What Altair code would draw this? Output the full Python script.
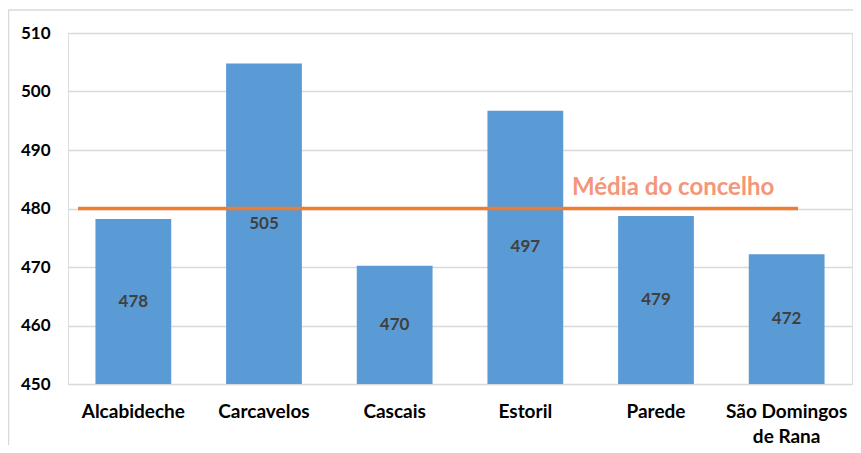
import altair as alt
import pandas as pd

categories = ["Alcabideche", "Carcavelos", "Cascais", "Estoril", "Parede", "São Domingos de Rana"]
values = [478.2, 504.8, 470.2, 496.7, 478.7, 472.2]
labels = [478, 505, 470, 497, 479, 472]
average = 480
average_label = "Média do concelho"
y_ticks = [450, 460, 470, 480, 490, 500, 510]

df = pd.DataFrame({"cat": categories, "value": values, "label": labels})
avg_df = pd.DataFrame({"avg": [average], "text": [average_label]})

W, H = 784, 351
FONT = "Lato"

x_enc = alt.X(
    "cat:N", sort=categories, title=None,
    scale=alt.Scale(paddingInner=0.42, paddingOuter=0.21),
    axis=alt.Axis(
        labelAngle=0, labelFontSize=19, labelFontWeight="bold", labelColor="#000000",
        labelFont=FONT, labelPadding=18, ticks=False, domain=False, grid=False,
        labelLineHeight=25, labelBaseline="top",
        labelExpr="datum.label == 'São Domingos de Rana' ? ['São Domingos', 'de Rana'] : datum.label",
    ),
)
y_scale = alt.Scale(domain=[450, 510], nice=False, zero=False)

bars = alt.Chart(df).mark_bar(color="#5B9BD5", clip=True).encode(
    x=x_enc,
    y=alt.Y("value:Q", scale=y_scale, title=None,
            axis=alt.Axis(values=y_ticks, labelFontSize=17, labelFontWeight="bold",
                          labelColor="#000000", labelFont=FONT, labelPadding=18,
                          ticks=False, domain=False, grid=True, gridColor="#D9D9D9",
                          gridWidth=1.5)),
    y2=alt.datum(450),
)

text = alt.Chart(df).transform_calculate(mid="(450 + datum.value) / 2").mark_text(
    fontSize=17, fontWeight="bold", color="#404040", font=FONT, baseline="middle"
).encode(
    x=alt.X("cat:N", sort=categories),
    y=alt.Y("mid:Q", scale=y_scale),
    text="label:Q",
)

rule = alt.Chart(avg_df).mark_rule(color="#ED7D31", strokeWidth=3.5).encode(
    y=alt.Y("avg:Q", scale=y_scale),
    x=alt.value(10),
    x2=alt.value(730),
)

avg_text = alt.Chart(avg_df).mark_text(
    fontSize=24, fontWeight="bold", color="#F4967A", font=FONT,
    align="left", baseline="alphabetic", dy=-14,
).encode(
    y=alt.Y("avg:Q", scale=y_scale),
    x=alt.value(504),
    text="text:N",
)

frame = alt.Chart(avg_df).mark_rect(fill=None, stroke="#D9D9D9", strokeWidth=1.5).encode(
    x=alt.value(-59.5), x2=alt.value(W + 40),
    y=alt.value(-23), y2=alt.value(H + 90),
)

chart = alt.layer(frame, bars, text, rule, avg_text).properties(
    width=W, height=H,
    autosize=alt.AutoSizeParams(type="none"),
    padding={"left": 60, "top": 25, "right": 1, "bottom": 61},
).configure_view(stroke=None).configure(background="white")

chart.save("out.html", embed_options={"renderer": "svg", "actions": False})
